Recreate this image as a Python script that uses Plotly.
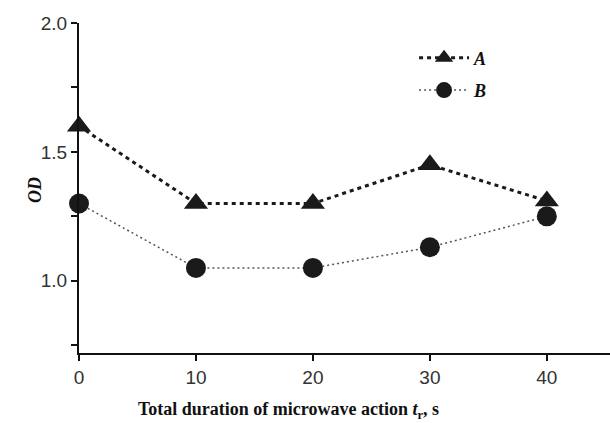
import plotly.graph_objects as go

x_vals = [0, 10, 20, 30, 40]
series_a = [1.60, 1.30, 1.30, 1.45, 1.31]
series_b = [1.30, 1.05, 1.05, 1.13, 1.25]
x_ticks = [0, 10, 20, 30, 40]
y_ticks = [1.0, 1.5, 2.0]
y_minor = [0.75, 1.25, 1.75]

fig = go.Figure()
fig.add_trace(go.Scatter(
    x=x_vals, y=series_a, name="<b><i>A</i></b>", mode="lines+markers",
    legendgroup="a",
    line=dict(color="#1a1a1a", width=3, dash="4px,4px"),
    marker=dict(symbol="triangle-up", size=21, color="#1a1a1a"),
    cliponaxis=False,
))
fig.add_trace(go.Scatter(
    x=x_vals, y=series_b, name="<b><i>B</i></b>", mode="lines+markers",
    legendgroup="b",
    line=dict(color="#555555", width=1.5, dash="2px,3px"),
    marker=dict(symbol="circle", size=20, color="#1a1a1a"),
    cliponaxis=False,
))

fig.update_layout(
    width=610, height=423,
    margin=dict(l=79, r=0, t=23, b=70),
    paper_bgcolor="white", plot_bgcolor="white",
    showlegend=True,
    legend=dict(x=0.631, y=0.95, xanchor="left", yanchor="top",
                font=dict(family="Liberation Serif", size=18, color="#111"),
                bgcolor="rgba(0,0,0,0)", itemwidth=50, tracegroupgap=6,
                traceorder="grouped"),
    font=dict(family="Liberation Sans", color="#222"),
    annotations=[
        dict(text="<b>Total duration of microwave action <i>t</i><sub>r</sub>, s</b>",
             xref="paper", yref="paper", x=0.395, y=0, yshift=-57,
             xanchor="center", yanchor="middle", showarrow=False,
             font=dict(family="Liberation Serif", size=18, color="#111")),
        dict(text="<b><i>OD</i></b>", textangle=-90,
             xref="paper", yref="paper", x=0, xshift=-44, y=0.494,
             xanchor="center", yanchor="middle", showarrow=False,
             font=dict(family="Liberation Serif", size=18, color="#111")),
    ],
)
fig.update_xaxes(
    range=[0, 45.4], tickvals=x_ticks, ticks="outside", ticklen=6, tickwidth=2,
    showline=True, linewidth=2, linecolor="#111", tickcolor="#111",
    showgrid=False, zeroline=False, automargin=False,
    tickfont=dict(family="Liberation Sans", size=19, color="#333"),
)
fig.update_yaxes(
    range=[0.72, 2.0], tickvals=y_ticks, tickformat=".1f", ticks="outside", ticklen=6, tickwidth=2,
    showline=True, linewidth=2, linecolor="#111", tickcolor="#111",
    showgrid=False, zeroline=False, automargin=False,
    minor=dict(tickvals=y_minor, ticks="outside", ticklen=6, tickwidth=2, tickcolor="#111"),
    tickfont=dict(family="Liberation Sans", size=19, color="#333"),
)

fig.write_html("out.html", config={"displayModeBar": False},
               post_script="document.body.style.margin='0';")
